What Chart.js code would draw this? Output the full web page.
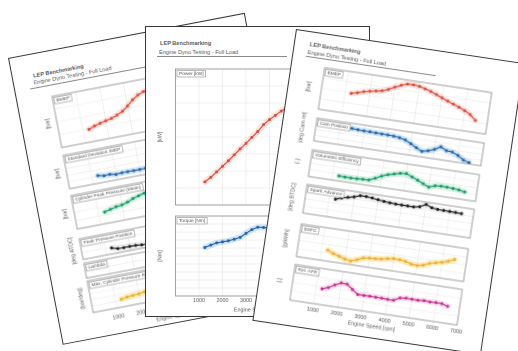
<!DOCTYPE html>
<html>
<head>
<meta charset="utf-8">
<title>LEP Benchmarking - Engine Dyno Testing</title>
<script src="https://cdn.jsdelivr.net/npm/chart.js@4.4.1/dist/chart.umd.min.js"></script>
<style>
  html, body { margin: 0; padding: 0; background: #fff; width: 518px; height: 351px; overflow: hidden; }
  .sheet { position: absolute; background: #fff; transform-origin: 0 0; box-sizing: border-box;
           outline: 1.4px solid #363636; outline-offset: -1.4px; }
  .sheet canvas { position: absolute; }
  .txt { position: absolute; white-space: nowrap; font-family: "Liberation Sans", Arial, sans-serif; color: #5a5a5a; }
  .rule { position: absolute; height: 0; border-top: 0.7px solid #8a8a8a; }
</style>
</head>
<body>
<div id="sheetLeft" class="sheet" style="left:8px; top:58px; width:241px; height:292px; transform:rotate(-10.8deg); z-index:1;"></div>
<div id="sheetMid" class="sheet" style="left:145px; top:26px; width:225px; height:291px; z-index:2;"></div>
<div id="sheetRight" class="sheet" style="left:296px; top:29px; width:231px; height:295px; transform:rotate(8.5deg); z-index:3;"></div>

<script>
// Engine speed of every measured operating point [rpm]
const rpm = [1250, 1500, 1750, 2000, 2250, 2500, 2750, 3000, 3250, 3500, 3750,
             4000, 4250, 4500, 4750, 5000, 5250, 5500, 5750, 6000, 6250, 6500];
// Labelled engine speed ticks
const rpmTicks = [1000, 2000, 3000, 4000, 5000, 6000, 7000];

// Sheet 1 - combustion analysis
const p1Bmep      = [7.97, 8.3, 8.56, 8.76, 8.97, 9.3, 9.72, 10.38, 11.15, 11.72, 12.1,
                     12.3, 12.4, 12.35, 12.2, 12.0, 11.75, 11.45, 11.1, 10.75, 10.35, 9.9];
const p1StdImep   = [0.113, 0.093, 0.097, 0.079, 0.087, 0.087, 0.085, 0.084, 0.089, 0.092, 0.09,
                     0.095, 0.1, 0.098, 0.104, 0.11, 0.108, 0.115, 0.12, 0.118, 0.125, 0.13];
const p1PeakPress = [47.4, 50.8, 54.3, 55.8, 60, 66, 69.7, 73.5, 77, 80, 81.5,
                     82, 82, 81.5, 81, 80, 79, 78, 77, 76, 74.5, 73];
const p1PeakPos   = [8.5, 6, 5.8, 5.9, 5.7, 4.9, 4.7, 5, 5.5, 6, 6.5,
                     7, 7.5, 8, 8.5, 9, 9.5, 10, 10.5, 11, 11.5, 12];
const p1MaxRise   = [1.22, 1.39, 1.46, 1.52, 1.67, 1.85, 2.0, 2.15, 2.3, 2.4, 2.5,
                     2.55, 2.6, 2.6, 2.55, 2.5, 2.45, 2.4, 2.3, 2.2, 2.1, 2.0];

// Sheet 2 - power and torque
const powerKw  = [27.2, 32.5, 39, 45.5, 52, 59, 66, 72.5, 79.5, 86.5, 94.5,
                  100.5, 105.5, 110.5, 115, 119, 122.5, 125.5, 128, 129.5, 130, 129];
const torqueNm = [182, 191, 199, 203, 207, 213, 220, 235, 249, 258, 257,
                  256, 253, 250, 246, 240, 233, 226, 219, 211, 203, 193];

// Sheet 3 - engine calibration
const bmep     = [10.95, 11.1, 11.28, 11.42, 11.52, 11.63, 11.85, 12.15, 12.42, 12.62, 12.63,
                  12.57, 12.42, 12.25, 12.03, 11.8, 11.58, 11.37, 11.17, 10.92, 10.63, 10.15];
const camPos   = [31.8, 31, 30.4, 30.1, 29.9, 29.6, 29.4, 29.1, 28.6, 27.5, 25,
                  20, 14.5, 9.8, 12.3, 16.2, 22.5, 17.2, 16.2, 12, 5.5, 2.3];
const volEff   = [0.837, 0.835, 0.835, 0.836, 0.839, 0.84, 0.86, 0.882, 0.9, 0.912, 0.923,
                  0.928, 0.91, 0.892, 0.872, 0.854, 0.87, 0.874, 0.873, 0.87, 0.866, 0.857];
const sparkAdv = [25.5, 28.5, 30.5, 32.5, 35.3, 35.4, 34.6, 33.4, 32.5, 31.7, 31.2,
                  31, 31, 30.9, 32.5, 36.8, 33.5, 32.4, 32.3, 32.1, 31.9, 31.5];
const bsfc     = [280, 270.5, 264, 257, 253, 261, 270.5, 273.5, 275, 276.8, 281.5,
                  284.5, 284, 281, 274.5, 272.7, 277.5, 287, 292.5, 297.5, 305, 314];
const relAfr   = [0.888, 0.9, 0.92, 0.936, 0.934, 0.91, 0.886, 0.886, 0.887, 0.886, 0.886,
                  0.884, 0.884, 0.902, 0.906, 0.905, 0.904, 0.907, 0.905, 0.906, 0.905, 0.895];

const FONT = '"Liberation Sans", Arial, sans-serif';
const GRID = 'rgba(0,0,0,0.10)';
const COLORS = {
  red:     ['#d8513f', 'rgba(236,128,114,0.22)'],
  blue:    ['#2b68a6', 'rgba(110,175,230,0.32)'],
  green:   ['#1f9a68', 'rgba(110,210,170,0.32)'],
  black:   ['#1e1e1e', 'rgba(0,0,0,0.07)'],
  yellow:  ['#e9b03a', 'rgba(250,215,110,0.48)'],
  magenta: ['#c9308c', 'rgba(235,140,200,0.24)']
};

// Frame, legend tab and axis titles of one panel
const panelDecor = {
  id: 'panelDecor',
  afterDatasetsDraw(chart, args, o) {
    const { ctx, chartArea: a } = chart;
    ctx.save();
    ctx.lineWidth = 0.8;
    ctx.strokeStyle = '#8a8a8a';
    ctx.strokeRect(a.left, a.top, a.right - a.left, a.bottom - a.top);

    ctx.font = '4.8px ' + FONT;
    const w = ctx.measureText(o.label).width + 4;
    const h = 6.5;
    ctx.fillStyle = '#fff';
    ctx.fillRect(a.left + 1.5, a.top + 1.5, w, h);
    ctx.lineWidth = 0.6;
    ctx.strokeRect(a.left + 1.5, a.top + 1.5, w, h);
    ctx.fillStyle = '#555';
    ctx.textBaseline = 'middle';
    ctx.textAlign = 'left';
    ctx.fillText(o.label, a.left + 3.5, a.top + 1.5 + h / 2);

    ctx.font = '5.4px ' + FONT;
    ctx.fillStyle = '#5a5a5a';
    if (o.xTitle) {
      ctx.textAlign = 'center';
      ctx.fillText(o.xTitle, (a.left + a.right) / 2, a.bottom + o.xTitleGap);
    }
    if (o.yTitle) {
      ctx.translate(o.yTitleX, (a.top + a.bottom) / 2);
      ctx.rotate(-Math.PI / 2);
      ctx.textAlign = 'center';
      ctx.fillText(o.yTitle, 0, 0);
    }
    ctx.restore();
  }
};

function seriesSets(values, colorKey) {
  const [line, glow] = COLORS[colorKey];
  const pts = rpm.map((r, i) => ({ x: r, y: values[i] }));
  return [
    { data: pts, borderColor: line, backgroundColor: line, borderWidth: 1.2,
      pointRadius: 1.5, pointBorderWidth: 0, pointBackgroundColor: line, order: 0 },
    { data: pts, borderColor: glow, borderWidth: 6, pointRadius: 0,
      borderCapStyle: 'round', borderJoinStyle: 'round', order: 1 }
  ];
}

function text(sheet, str, x, cy, size, weight) {
  const d = document.createElement('div');
  d.className = 'txt';
  d.textContent = str;
  d.style.left = x + 'px';
  d.style.top = (cy - size / 2) + 'px';
  d.style.fontSize = size + 'px';
  d.style.lineHeight = size + 'px';
  if (weight) d.style.fontWeight = weight;
  sheet.appendChild(d);
}

function buildSheet(id, s) {
  const el = document.getElementById(id);
  text(el, 'LEP Benchmarking', s.head[0], s.head[1], 5.6, 'bold');
  text(el, 'Engine Dyno Testing - Full Load', s.head[0] - 1, s.head[2], 5.6);
  const rule = document.createElement('div');
  rule.className = 'rule';
  rule.style.left = s.rule[0] + 'px';
  rule.style.width = (s.rule[1] - s.rule[0]) + 'px';
  rule.style.top = s.rule[2] + 'px';
  el.appendChild(rule);

  s.panels.forEach(p => {
    const padTop = 3;
    const xH = p.xAxis ? 24 : 0;
    const padBottom = p.xAxis ? 0 : 2;
    const c = document.createElement('canvas');
    c.width = s.width;
    c.height = (p.bottom - p.top) + padTop + xH + padBottom;
    c.style.left = '0px';
    c.style.top = (p.top - padTop) + 'px';
    el.appendChild(c);

    new Chart(c, {
      type: 'line',
      data: { datasets: p.values ? seriesSets(p.values, p.color) : [] },
      options: {
        responsive: false,
        animation: false,
        devicePixelRatio: 2,
        events: [],
        layout: { padding: { top: padTop, left: 0, right: s.width - s.frameR, bottom: padBottom } },
        plugins: {
          legend: { display: false },
          tooltip: { enabled: false },
          panelDecor: {
            label: p.label,
            yTitle: p.yTitle,
            yTitleX: s.yTitleX,
            xTitle: p.xAxis ? 'Engine Speed [rpm]' : null,
            xTitleGap: s.xTitleGap
          }
        },
        scales: {
          x: {
            type: 'linear', min: 0, max: 7000,
            afterBuildTicks: sc => { sc.ticks = rpmTicks.map(v => ({ value: v })); },
            afterFit: sc => { sc.height = xH; },
            grid: { color: GRID, lineWidth: 0.6, drawTicks: false },
            border: { display: false },
            ticks: {
              display: !!p.xAxis, autoSkip: false, maxRotation: 0,
              padding: s.tickPad, color: '#555',
              font: { family: FONT, size: 5.4 },
              callback: v => String(v)
            }
          },
          y: {
            min: p.min, max: p.max,
            afterFit: sc => { sc.width = s.frameL; },
            grid: { color: GRID, lineWidth: 0.6, drawTicks: false },
            border: { display: false },
            ticks: { display: false, stepSize: p.step }
          }
        }
      },
      plugins: [panelDecor]
    });
  });
}

buildSheet('sheetLeft', {
  width: 241, frameL: 36, frameR: 205, yTitleX: 27, tickPad: 6, xTitleGap: 19,
  head: [21.5, 22.4, 30], rule: [16, 160, 33.5],
  panels: [
    { top: 45,  bottom: 100, label: 'BMEP', yTitle: '[bar]', min: 6, max: 14, step: 2, values: p1Bmep, color: 'red' },
    { top: 105, bottom: 142, label: 'Standard Deviation IMEP', yTitle: '[bar]', min: 0, max: 0.5, step: 0.1, values: p1StdImep, color: 'blue' },
    { top: 146, bottom: 183, label: 'Cylinder Peak Pressure (Mean)', yTitle: '[bar]', min: 20, max: 100, step: 20, values: p1PeakPress, color: 'green' },
    { top: 190, bottom: 214, label: 'Peak Pressure Position', yTitle: '[deg ATDC]', min: 0, max: 30, step: 10, values: p1PeakPos, color: 'black' },
    { top: 216, bottom: 231, label: 'Lambda', min: 0.8, max: 1.2, step: 0.2 },
    { top: 233, bottom: 266, label: 'Max. Cylinder Pressure Rise', yTitle: '[bar/deg]', min: 0, max: 5, step: 1, values: p1MaxRise, color: 'yellow', xAxis: true }
  ]
});

buildSheet('sheetMid', {
  width: 225, frameL: 30.5, frameR: 195, yTitleX: 15, tickPad: 1.5, xTitleGap: 14,
  head: [15, 17.6, 26.5], rule: [12, 142, 29.5],
  panels: [
    { top: 42,  bottom: 181, label: 'Power [kW]', yTitle: '[kW]', min: 0, max: 160, step: 20, values: powerKw, color: 'red' },
    { top: 189, bottom: 270, label: 'Torque [Nm]', yTitle: '[Nm]', min: 0, max: 300, step: 30, values: torqueNm, color: 'blue', xAxis: true }
  ]
});

buildSheet('sheetRight', {
  width: 231, frameL: 34, frameR: 203, yTitleX: 21, tickPad: 3.5, xTitleGap: 14,
  head: [16, 14, 21.5], rule: [14, 145, 24.5],
  panels: [
    { top: 33,  bottom: 78,  label: 'BMEP', yTitle: '[bar]', min: 9, max: 13, step: 1, values: bmep, color: 'red' },
    { top: 84,  bottom: 110, label: 'Cam Position', yTitle: '[deg Cam rel]', min: 0, max: 40, step: 10, values: camPos, color: 'blue' },
    { top: 116, bottom: 146, label: 'Volumetric Efficiency', yTitle: '[-]', min: 0.8, max: 1.0, step: 0.05, values: volEff, color: 'green' },
    { top: 151, bottom: 183, label: 'Spark Advance', yTitle: '[deg BTDC]', min: 0, max: 40, step: 10, values: sparkAdv, color: 'black' },
    { top: 191, bottom: 227, label: 'BSFC', yTitle: '[g/kWh]', min: 240, max: 360, step: 30, values: bsfc, color: 'yellow' },
    { top: 232, bottom: 269, label: 'Rel. AFR', yTitle: '[-]', min: 0.8, max: 1.0, step: 0.05, values: relAfr, color: 'magenta', xAxis: true }
  ]
});
</script>
</body>
</html>
